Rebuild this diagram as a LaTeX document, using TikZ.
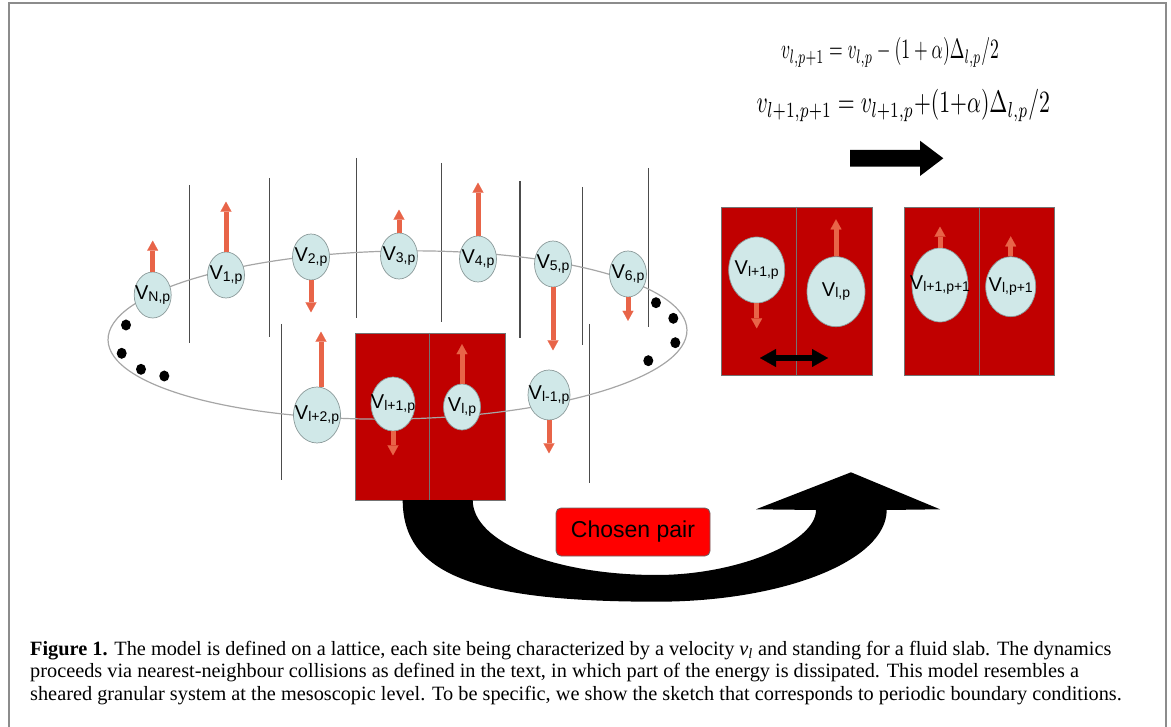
\documentclass[tikz,border=0pt]{standalone}
\usepackage{fontspec}
\setmainfont{Liberation Serif}
\newfontfamily\labelfont{Liberation Sans}
\usetikzlibrary{shapes.geometric, arrows.meta, positioning}

\definecolor{slabred}{RGB}{192,0,0}
\definecolor{sitefill}{RGB}{208,232,232}
\definecolor{sitedraw}{RGB}{140,155,155}
\definecolor{velorange}{RGB}{232,100,72}
\definecolor{pairred}{RGB}{255,0,0}

% site label: V with a lowered index
\newcommand{\vsite}[1]{\makebox[0pt]{\labelfont\fontsize{20}{20}\selectfont V\raisebox{-1.5pt}{\fontsize{14}{14}\selectfont #1}}}

\begin{document}
\begin{tikzpicture}[x=1pt,y=-1pt,
  site node/.style={ellipse,draw=sitedraw,line width=0.7pt,fill=sitefill,inner sep=0pt,minimum width=37pt,minimum height=46pt},
  vel/.style={draw=velorange,line width=5pt,-{Triangle[width=11pt,length=10pt,line width=0.1pt]}},
  wall/.style={draw=black!70,line width=1.1pt},
  ring/.style={draw=black!35,line width=1.2pt},
  slab/.style={fill=slabred,draw=black!55,line width=0.8pt},
  frame/.style={draw=black!45,line width=2pt},
  pair box/.style={draw=black!60,line width=0.8pt,fill=pairred,rounded corners=5pt,minimum width=154pt,minimum height=48pt,font=\labelfont\fontsize{23}{23}\selectfont},
  caption/.style={align=left,inner sep=0pt,font=\fontsize{20.3}{22.5}\selectfont}]
  \useasboundingbox (0,0) rectangle (1171,727);
  \draw[frame] (8.7,730) -- (8.7,3.3) -- (1165.7,3.3) -- (1165.7,730);

  % walls between the sites
  \foreach \x/\a/\b in {189.3/185/343, 269.3/178/337, 356.7/158/318, 281.7/324/480, 441.7/163/322,
                        520/181/338, 582.3/187/345, 648.3/168/327, 589.3/324/483}
    {\draw[wall] (\x,\a) -- (\x,\b);}

  % chosen slabs on the ring
  \draw[slab] (355,333) rectangle (505,500);
  \draw[slab] (429.3,333) -- (429.3,500);

  \draw[ring] (397.5,335) ellipse [x radius=289.5pt,y radius=84pt,rotate=1];
  \foreach \x/\y in {126/325, 121.7/353.3, 141/369.3, 164.3/376, 656/302.7, 673.3/318.3, 675.3/342.7, 648.3/360.7}
    {\fill (\x,\y) ellipse [x radius=5pt,y radius=5.5pt];}

  \node[site node] (vN) at (152.7,295) {\vsite{N,p}};
  \node[site node] (v1) at (226,275) {\vsite{1,p}};
  \node[site node] (v2) at (311,257) {\vsite{2,p}};
  \node[site node] (v3) at (399,256) {\vsite{3,p}};
  \node[site node] (v4) at (478,259) {\vsite{4,p}};
  \node[site node] (v5) at (553,264) {\vsite{5,p}};
  \node[site node] (v6) at (628,274) {\vsite{6,p}};
  \node[site node,minimum width=42pt,minimum height=50pt] (vlm) at (549,395) {\vsite{l-1,p}};
  \node[site node] (vl) at (462,407) {\vsite{l,p}};
  \node[site node,minimum width=44pt,minimum height=54pt] (vlp) at (393,404) {\vsite{l+1,p}};
  \node[site node,minimum width=47pt,minimum height=56pt] (vlpp) at (317,415) {\vsite{l+2,p}};

  \foreach \n/\a/\d in {vN/north/-31, v1/north/-50, v2/south/32, v3/north/-23, v4/north/-53, v5/south/63,
                        v6/south/23.5, vlm/south/33, vl/north/-39.5, vlp/south/24}
    {\draw[vel] (\n.\a) -- ++(0,\d);}
  \draw[vel] ([xshift=4pt]vlpp.north) -- ++(0,-55);

  % the collision, before and after
  \draw[slab] (721,207) rectangle (872,375);
  \draw[slab] (796,207) -- (796,375);
  \draw[slab] (904,207) rectangle (1054,375);
  \draw[slab] (979,207) -- (979,375);

  \node[site node,minimum width=56pt,minimum height=66pt] (rlp) at (756.7,270) {\vsite{l+1,p}};
  \node[site node,minimum width=58pt,minimum height=70pt] (rl) at (836,291.7) {\vsite{l,p}};
  \node[site node,minimum width=56pt,minimum height=74pt] (slp) at (940,285) {\vsite{l+1,p+1}};
  \node[site node,minimum width=50pt,minimum height=60pt] (sl) at (1010.7,286.7) {\vsite{l,p+1}};

  \draw[vel] (rlp.south) -- ++(0,25);
  \draw[vel] (rl.north) -- ++(0,-37);
  \draw[vel] (slp.north) -- ++(0,-21);
  \draw[vel] (sl.north) -- ++(0,-20);

  \coordinate (swl) at (760,358);
  \coordinate (swr) at (828,358);
  \draw[line width=6pt,{Triangle[width=18pt,length=16pt,line width=0.1pt]}-{Triangle[width=18pt,length=16pt,line width=0.1pt]}] (swl) -- (swr);

  \node (eq1) at (890,52.5) {\scalebox{1.76}[2.8]{$v_{l,p+1} = v_{l,p} - (1+\alpha)\Delta_{l,p}/2$}};
  \node (eq2) at (903.3,105.8) {\scalebox{2.17}[3.1]{$v_{l+1,p+1} = v_{l+1,p}{+}(1{+}\alpha)\Delta_{l,p}/2$}};

  \fill (850,150) -- (920,150) -- (920,140.7) -- (943.3,158.3) -- (920,176) -- (920,166.7) -- (850,166.7) -- cycle;

  % curved arrow from the chosen pair
  \fill (402.7,500) .. controls (402.7,573.5) and (473.8,601.7) .. (656.7,601.7)
        .. controls (783.7,601.7) and (886.7,560.6) .. (886.7,510)
        -- (940,509.3) -- (851,472.3) -- (756,509.3) -- (816,510)
        .. controls (816,542.5) and (736.4,575) .. (656.7,575)
        .. controls (555.1,575) and (472.7,542.7) .. (472.7,500) -- cycle;

  \node[pair box] (chosen) at (633,532) {Chosen pair\hspace{14pt}};

  \node[caption,anchor=north west] (cap) at (30,641) {\textbf{Figure 1.} The model is defined on a lattice, each site being characterized by a velocity \textit{v}\textsubscript{\textit{l}} and standing for a fluid slab. The dynamics\\
    proceeds via nearest-neighbour collisions as defined in the text, in which part of the energy is dissipated. This model resembles a\\
    sheared granular system at the mesoscopic level. To be specific, we show the sketch that corresponds to periodic boundary conditions.};
\end{tikzpicture}
\end{document}
